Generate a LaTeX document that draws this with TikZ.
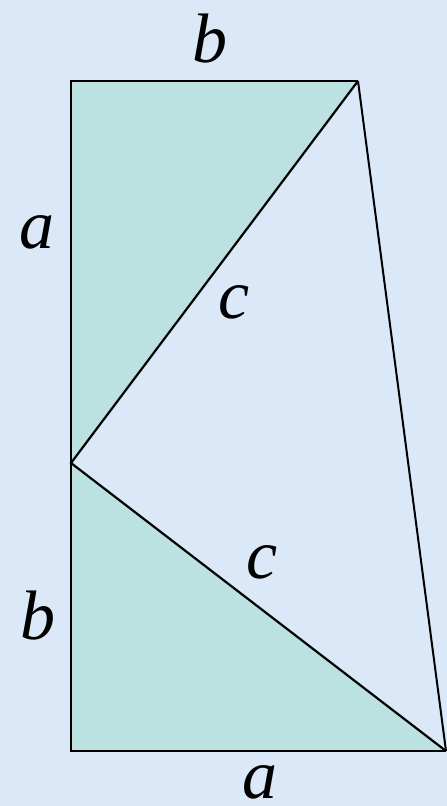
\documentclass[tikz,border=0pt]{standalone}
\usepackage{fontspec}
\setmainfont{Liberation Serif}
\definecolor{bgblue}{HTML}{DAE8F7}
\definecolor{tealfill}{HTML}{BBE1E1}
\begin{document}
\begin{tikzpicture}[x=1pt,y=-1pt,
  lbl/.style={font=\fontsize{70}{70}\selectfont\itshape, anchor=base, inner sep=0pt},
  edge/.style={draw=black, line width=2.6pt, line join=miter}]
\fill[bgblue] (0,0) rectangle (447,806);
\useasboundingbox (0,0) rectangle (447,806);
\coordinate (TL) at (71,81);
\coordinate (TR) at (358,81);
\coordinate (M) at (71,463);
\coordinate (BL) at (71,751);
\coordinate (BR) at (446,751);
\fill[tealfill] (TL) -- (TR) -- (M) -- cycle;
\fill[tealfill] (M) -- (BL) -- (BR) -- cycle;
\draw[edge] (TR) -- (TL) -- (BL) -- (BR);
\draw[edge, line width=2.2pt] (TR) -- (M) -- (BR);
\draw[edge, line width=2pt] (TR) -- (BR);
\node[lbl] (lb1) at (210,62) {b};
\node[lbl] (la1) at (37,248) {a};
\node[lbl] (lc1) at (234,318) {c};
\node[lbl] (lc2) at (262,578) {c};
\node[lbl] (lb2) at (38,639) {b};
\node[lbl] (la2) at (260,798) {a};
\end{tikzpicture}
\end{document}
